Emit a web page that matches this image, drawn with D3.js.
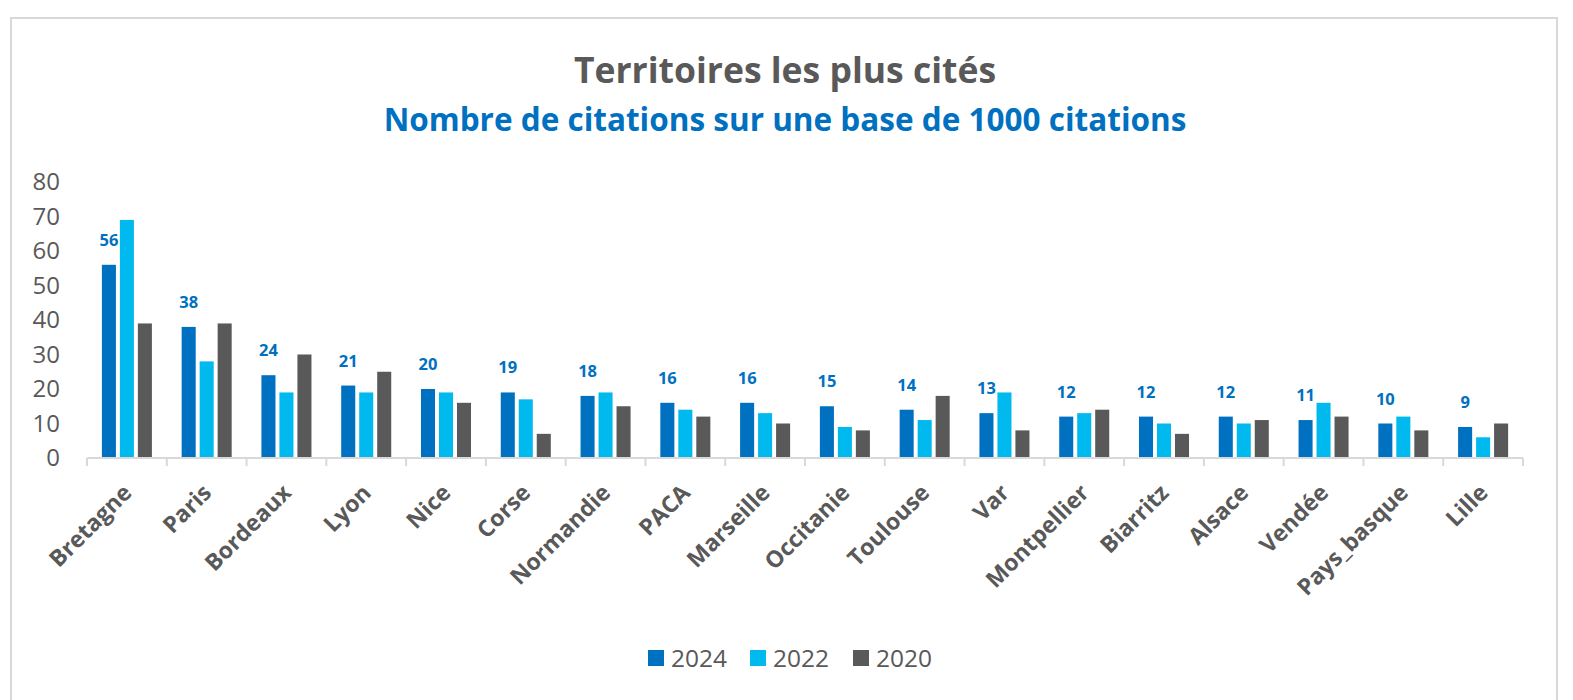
<!DOCTYPE html>
<html>
<head>
<meta charset="utf-8">
<script src="https://d3js.org/d3.v7.min.js"></script>
<style>
  body { margin: 0; background: #fff; }
  text { font-family: "Open Sans", sans-serif; }
</style>
</head>
<body>
<svg width="1573" height="700"></svg>
<script>
    var categories = ["Bretagne", "Paris", "Bordeaux", "Lyon", "Nice", "Corse", "Normandie", "PACA",
        "Marseille", "Occitanie", "Toulouse", "Var", "Montpellier", "Biarritz", "Alsace", "Vendée",
        "Pays_basque", "Lille"];
    var years = ["2024", "2022", "2020"];
    var values2024 = [56, 38, 24, 21, 20, 19, 18, 16, 16, 15, 14, 13, 12, 12, 12, 11, 10, 9];
    var values2022 = [69, 28, 19, 19, 19, 17, 19, 14, 13, 9, 11, 19, 13, 10, 10, 16, 12, 6];
    var values2020 = [39, 39, 30, 25, 16, 7, 15, 12, 10, 8, 18, 8, 14, 7, 11, 12, 8, 10];
    var yTicks = [0, 10, 20, 30, 40, 50, 60, 70, 80];
    var colors = ["#0070C0", "#00B9EE", "#595959"];

    var svg = d3.select("svg");
    var series = [values2024, values2022, values2020];

    var data = categories.map(function(c, i) {
        return {cat: c, vals: years.map(function(y, j) { return {year: y, v: series[j][i]}; })};
    });

    // chart frame
    svg.append("rect")
        .attr("x", 11).attr("y", 18)
        .attr("width", 1546).attr("height", 700)
        .attr("fill", "none")
        .attr("stroke", "#d9d9d9")
        .attr("stroke-width", 2);

    svg.append("text")
        .attr("x", 785).attr("y", 83)
        .attr("text-anchor", "middle")
        .style("font-size", "35.5px").style("font-weight", "bold")
        .attr("fill", "#595959")
        .text("Territoires les plus cités");

    svg.append("text")
        .attr("x", 785).attr("y", 131)
        .attr("text-anchor", "middle")
        .style("font-size", "31.5px").style("font-weight", "bold")
        .attr("fill", "#0070C0")
        .text("Nombre de citations sur une base de 1000 citations");

    var x0 = d3.scaleBand().domain(categories).range([87, 1523]).paddingInner(0.373).paddingOuter(0.1865);
    var x1 = d3.scaleBand().domain(years).range([0, x0.bandwidth()]).paddingInner(0.22);
    var y = d3.scaleLinear().domain([0, 80]).range([458, 182]);

    // y labels
    svg.append("g").selectAll("text")
        .data(yTicks)
        .enter().append("text")
        .attr("x", 60)
        .attr("y", function(d) { return y(d); })
        .attr("dy", "0.35em")
        .attr("text-anchor", "end")
        .style("font-size", "24px")
        .attr("fill", "#595959")
        .text(function(d) { return d; });

    // bars
    var groups = svg.append("g").selectAll("g")
        .data(data)
        .enter().append("g")
        .attr("transform", function(d) { return "translate(" + x0(d.cat) + ",0)"; });

    groups.selectAll("rect")
        .data(function(d) { return d.vals; })
        .enter().append("rect")
        .attr("x", function(d) { return x1(d.year); })
        .attr("width", x1.bandwidth())
        .attr("y", function(d) { return y(d.v); })
        .attr("height", function(d) { return y(0) - y(d.v); })
        .attr("fill", function(d, i) { return colors[i]; });

    // labels for 2024
    groups.append("text")
        .attr("x", function(d) { return x1("2024") + x1.bandwidth() / 2; })
        .attr("y", function(d) { return y(d.vals[0].v) - 19; })
        .attr("text-anchor", "middle")
        .style("font-size", "16.5px").style("font-weight", "bold")
        .attr("fill", "#0070C0")
        .text(function(d) { return d.vals[0].v; });

    // x axis line and ticks
    var step = x0.step();
    var axis = svg.append("g");
    axis.append("line")
        .attr("x1", 87).attr("x2", 1523)
        .attr("y1", y(0)).attr("y2", y(0))
        .attr("stroke", "#d9d9d9").attr("stroke-width", 2);
    axis.selectAll(".tick")
        .data(d3.range(categories.length + 1))
        .enter().append("line")
        .attr("x1", function(i) { return 87 + i * step; })
        .attr("x2", function(i) { return 87 + i * step; })
        .attr("y1", y(0)).attr("y2", y(0) + 8)
        .attr("stroke", "#d9d9d9").attr("stroke-width", 2);

    axis.selectAll(".xlab")
        .data(categories)
        .enter().append("text")
        .attr("transform", function(d) {
            return "translate(" + (x0(d) + x0.bandwidth() / 2 - 6) + "," + 482 + ") rotate(-45)";
        })
        .attr("text-anchor", "end")
        .attr("dy", "0.75em")
        .style("font-size", "23px").style("font-weight", "bold")
        .attr("fill", "#595959")
        .text(function(d) { return d; });

    // legend
    var legendX = [648, 750, 853];
    var legend = svg.append("g").selectAll("g")
        .data(years)
        .enter().append("g")
        .attr("transform", function(d, i) { return "translate(" + legendX[i] + ",650)"; });
    legend.append("rect")
        .attr("width", 16).attr("height", 16)
        .attr("fill", function(d, i) { return colors[i]; });
    legend.append("text")
        .attr("x", 23).attr("y", 8)
        .attr("dy", "0.35em")
        .style("font-size", "24.5px")
        .attr("fill", "#595959")
        .text(function(d) { return d; });
</script>
</body>
</html>
